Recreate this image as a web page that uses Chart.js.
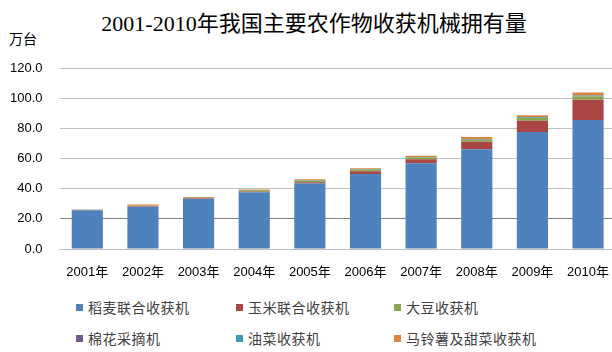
<!DOCTYPE html>
<html>
<head>
<meta charset="utf-8">
<script src="https://cdn.jsdelivr.net/npm/chart.js@4/dist/chart.umd.min.js"></script>
<style>
  body { margin: 0; width: 612px; height: 352px; overflow: hidden; background: #fff; position: relative; }
  #titulo { position: absolute; left: 0; width: 628px; top: 5px; text-align: center; font: 22px "Liberation Serif", "Noto Sans CJK SC"; color: #000; }
  #unidad { position: absolute; left: 9px; top: 28px; font: 14px "Noto Sans CJK SC"; color: #000; }
  #grafico { position: absolute; left: 0; top: 0; }
  .leyenda { position: absolute; font: 14px "Noto Sans CJK SC"; color: #404040; white-space: nowrap; letter-spacing: 0.5px; }
  .leyenda span { display: inline-block; width: 7px; height: 7px; margin-right: 5px; vertical-align: 2px; }
</style>
</head>
<body>
<div id="titulo">2001-2010年我国主要农作物收获机械拥有量</div>
<div id="unidad">万台</div>
<canvas id="grafico" width="617" height="285"></canvas>
<div id="leyendas"></div>
<script>
const anios = ["2001年", "2002年", "2003年", "2004年", "2005年", "2006年", "2007年", "2008年", "2009年", "2010年"];
const series = ["稻麦联合收获机", "玉米联合收获机", "大豆收获机", "棉花采摘机", "油菜收获机", "马铃薯及甜菜收获机"];
const arrozTrigo = [25.6, 28.0, 33.1, 37.7, 43.5, 49.7, 56.9, 66.2, 77.5, 85.5];
const maiz = [0.2, 0.3, 0.3, 0.4, 0.7, 1.8, 2.6, 4.9, 7.6, 13.4];
const soja = [0.1, 0.3, 0.4, 0.8, 1.1, 1.0, 1.1, 1.4, 1.7, 2.2];
const algodon = [0.02, 0.02, 0.03, 0.03, 0.05, 0.05, 0.06, 0.08, 0.1, 0.12];
const colza = [0.05, 0.1, 0.1, 0.2, 0.3, 0.3, 0.3, 0.4, 0.4, 0.5];
const papaRemolacha = [0.3, 0.8, 0.5, 0.4, 0.6, 0.7, 0.8, 1.3, 1.4, 2.1];
const ticksY = [0, 20, 40, 60, 80, 100, 120];

const colores = ["#4F81BD", "#AA4643", "#89A54E", "#71588F", "#4198AF", "#DB843D"];
const valores = [arrozTrigo, maiz, soja, algodon, colza, papaRemolacha];

const datasets = series.map((nombre, i) => ({
    label: nombre,
    data: valores[i],
    backgroundColor: colores[i],
    borderWidth: 0,
    categoryPercentage: 0.56,
    barPercentage: 1
}));

new Chart(document.getElementById("grafico").getContext("2d"), {
    type: "bar",
    data: { labels: anios, datasets: datasets },
    options: {
        responsive: false,
        animation: false,
        layout: { padding: { top: 68, right: 0, left: 0, bottom: 0 } },
        plugins: { legend: { display: false }, title: { display: false }, tooltip: { enabled: false } },
        scales: {
            x: {
                stacked: true,
                grid: { display: false },
                border: { color: "#bfbfbf" },
                ticks: { color: "#000", font: { family: "Liberation Sans, Noto Sans CJK SC", size: 13 }, padding: 8, maxRotation: 0 },
                afterFit: s => { s.height = 36; }
            },
            y: {
                stacked: true,
                min: 0,
                max: 120,
                afterBuildTicks: s => { s.ticks = ticksY.map(v => ({ value: v })); },
                grid: {
                    color: ctx => ctx.tick && ctx.tick.value === 20 ? "#808080" : "#bfbfbf",
                    drawTicks: false
                },
                border: { display: false },
                ticks: {
                    color: "#000",
                    font: { family: "Liberation Sans", size: 13 },
                    padding: 17,
                    callback: v => v.toFixed(1)
                },
                afterFit: s => { s.width = 59.5; }
            }
        }
    }
});

const posiciones = [[76, 297], [236, 297], [394, 297], [76, 328], [236, 328], [394, 328]];
const contenedor = document.getElementById("leyendas");
series.forEach((nombre, i) => {
    const el = document.createElement("div");
    el.className = "leyenda";
    el.style.left = posiciones[i][0] + "px";
    el.style.top = posiciones[i][1] + "px";
    el.innerHTML = `<span style="background:${colores[i]}"></span>${nombre}`;
    contenedor.appendChild(el);
});
</script>
</body>
</html>
